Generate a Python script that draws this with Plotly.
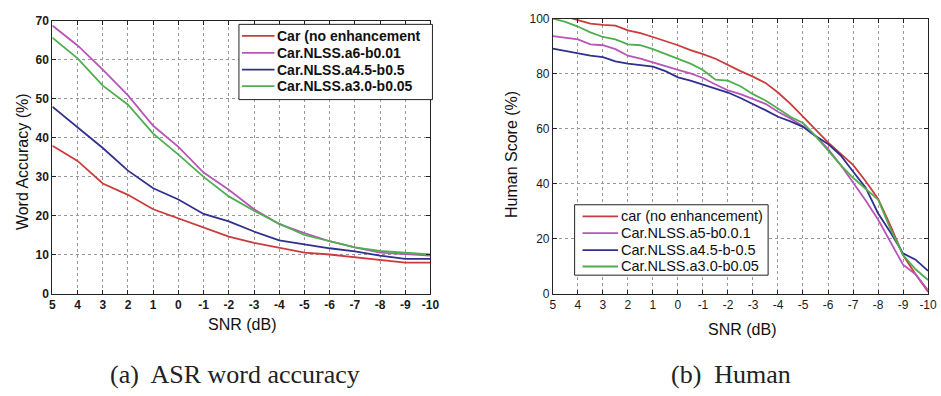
import plotly.graph_objects as go

W, H = 941, 396

# ---- (a) ASR word accuracy ----
snr_a = [5, 4, 3, 2, 1, 0, -1, -2, -3, -4, -5, -6, -7, -8, -9, -10]
acc_car = [37.9, 34.0, 28.2, 25.3, 21.6, 19.2, 16.9, 14.6, 13.0, 11.8, 10.5, 10.0, 9.3, 8.5, 7.9, 7.9]
acc_a6 = [68.7, 63.6, 57.4, 50.8, 43.0, 37.6, 31.0, 26.6, 21.6, 17.8, 15.5, 13.4, 11.8, 10.5, 10.1, 9.7]
acc_a45 = [47.9, 42.6, 37.3, 31.5, 27.0, 24.1, 20.4, 18.5, 15.9, 13.6, 12.6, 11.6, 10.8, 9.7, 8.9, 8.9]
acc_a30 = [65.6, 60.3, 53.3, 48.4, 41.0, 35.6, 29.9, 24.9, 21.2, 17.9, 15.0, 13.4, 11.8, 10.9, 10.5, 10.0]
names_a = ["Car (no enhancement", "Car.NLSS.a6-b0.01", "Car.NLSS.a4.5-b0.5", "Car.NLSS.a3.0-b0.05"]

# ---- (b) Human score ----
snr_b = [5, 4.5, 4, 3.5, 3, 2.5, 2, 1.5, 1, 0.5, 0, -0.5, -1, -1.5, -2, -2.5, -3, -3.5,
         -4, -4.5, -5, -5.5, -6, -6.5, -7, -7.5, -8, -8.5, -9, -9.5, -10]
hum_car = [102.0, 100.8, 99.4, 98.2, 97.7, 97.4, 95.7, 94.7, 93.3, 91.8, 90.3, 88.5, 87.1, 85.4,
           83.0, 80.9, 78.9, 76.6, 73.1, 69.0, 64.3, 59.6, 55.0, 50.9, 46.8, 40.9, 34.5, 24.6,
           14.0, 7.0, 0.6]
hum_a5 = [93.6, 93.0, 92.4, 90.6, 90.3, 88.9, 86.5, 85.4, 84.0, 82.8, 81.3, 80.1, 78.4, 76.0,
          73.9, 72.5, 70.8, 69.0, 66.1, 63.7, 60.8, 57.3, 52.6, 46.8, 40.4, 33.9, 26.9, 18.7,
          10.5, 7.0, 1.2]
hum_a45 = [89.1, 88.3, 87.5, 86.5, 86.0, 84.4, 83.6, 83.0, 82.5, 80.9, 78.6, 77.4, 76.0, 74.6,
           73.1, 71.1, 69.0, 66.7, 64.3, 62.6, 60.6, 57.3, 54.4, 50.3, 44.4, 38.6, 29.2, 22.2,
           14.6, 12.3, 8.2]
hum_a30 = [100.0, 98.8, 97.1, 95.0, 93.3, 92.4, 90.6, 90.3, 88.9, 87.1, 85.4, 83.6, 81.3, 77.8,
           77.4, 75.4, 72.5, 70.2, 67.3, 64.3, 62.0, 57.3, 52.0, 46.8, 42.1, 38.0, 34.2, 23.4,
           14.0, 8.8, 4.9]
names_b = ["car (no enhancement)", "Car.NLSS.a5-b0.0.1", "Car.NLSS.a4.5-b-0.5", "Car.NLSS.a3.0-b0.05"]

snr_ticks = list(range(5, -11, -1))
colors = ["#cc3b3b", "#b855b8", "#30308e", "#4fae4f"]


def px_x(p):
    return p / W


def px_y(p):
    return 1 - p / H


fig = go.Figure()

for name, ys, c in zip(names_a, [acc_car, acc_a6, acc_a45, acc_a30], colors):
    fig.add_trace(go.Scatter(x=snr_a, y=ys, mode="lines", name=name,
                             line=dict(color=c, width=1.8), xaxis="x", yaxis="y",
                             showlegend=False))

for name, ys, c in zip(names_b, [hum_car, hum_a5, hum_a45, hum_a30], colors):
    fig.add_trace(go.Scatter(x=snr_b, y=ys, mode="lines", name=name,
                             line=dict(color=c, width=1.8), xaxis="x2", yaxis="y2",
                             showlegend=False))

grid = dict(showgrid=True, gridcolor="#999999", gridwidth=1, griddash="dot",
            showline=True, linecolor="#222", linewidth=1, mirror="ticks",
            ticks="inside", ticklen=4, tickcolor="#222", zeroline=False)

tick_a = dict(family="Liberation Sans, Arial", size=12, color="#1a1a1a", weight="bold")
tick_b = dict(family="Liberation Sans, Arial", size=12, color="#1a1a1a")

fig.update_layout(
    width=W, height=H,
    margin=dict(l=0, r=0, t=0, b=0),
    paper_bgcolor="white", plot_bgcolor="white",
    xaxis=dict(domain=[px_x(50), px_x(433)], range=[5, -10], tickvals=snr_ticks,
               ticktext=[str(v) for v in snr_ticks], tickfont=tick_a, anchor="y", **grid),
    yaxis=dict(domain=[px_y(297), px_y(14)], range=[0, 70], dtick=10, tickfont=tick_a,
               anchor="x", **grid),
    xaxis2=dict(domain=[px_x(557), px_x(937)], range=[5, -10], tickvals=snr_ticks,
                ticktext=[str(v) for v in snr_ticks], tickfont=tick_b, anchor="y2", **grid),
    yaxis2=dict(domain=[px_y(297), px_y(12)], range=[0, 100], dtick=20, tickfont=tick_b,
                anchor="x2", **grid),
)

label_font = dict(family="Liberation Sans, Arial", size=16, color="#111")
caption_font = dict(family="Liberation Serif, Times New Roman, serif", size=26, color="#222")

annotations = [
    dict(text="Word Accuracy (%)", x=px_x(20), y=px_y(160), textangle=-90, font=label_font),
    dict(text="SNR (dB)", x=px_x(242), y=px_y(329), font=label_font),
    dict(text="Human Score (%)", x=px_x(515), y=px_y(153), textangle=-90, font=label_font),
    dict(text="SNR (dB)", x=px_x(749), y=px_y(334), font=label_font),
    dict(text="(a)  ASR word accuracy", x=px_x(235), y=px_y(381), font=caption_font),
    dict(text="(b)  Human", x=px_x(737), y=px_y(381), font=caption_font),
]
for a in annotations:
    a.update(xanchor="center")

shapes = []


def add_legend(box, rows, line_x, text_x, names, font):
    """Boxed legend: line samples and labels placed in paper pixels."""
    x0, y0, x1, y1 = box
    shapes.append(dict(type="rect", xref="paper", yref="paper",
                       x0=px_x(x0), x1=px_x(x1), y0=px_y(y1), y1=px_y(y0),
                       fillcolor="white", line=dict(color="#222", width=1), layer="above"))
    for name, c, ry in zip(names, colors, rows):
        shapes.append(dict(type="line", xref="paper", yref="paper",
                           x0=px_x(line_x[0]), x1=px_x(line_x[1]), y0=px_y(ry), y1=px_y(ry),
                           line=dict(color=c, width=1.8), layer="above"))
        annotations.append(dict(text=name, x=px_x(text_x), y=px_y(ry), xanchor="left",
                                font=font))


add_legend((239, 18, 435, 96), [30, 47.5, 65, 82], (242, 275), 276, names_a,
           dict(family="Liberation Sans, Arial", size=14, color="#111", weight="bold"))
add_legend((579, 205, 775, 278), [217, 234.5, 252, 269], (587, 623), 624, names_b,
           dict(family="Liberation Sans, Arial", size=14.5, color="#111"))

for a in annotations:
    a.update(xref="paper", yref="paper", showarrow=False, yanchor="middle")
fig.update_layout(annotations=annotations, shapes=shapes)

fig.write_html("out.html")
